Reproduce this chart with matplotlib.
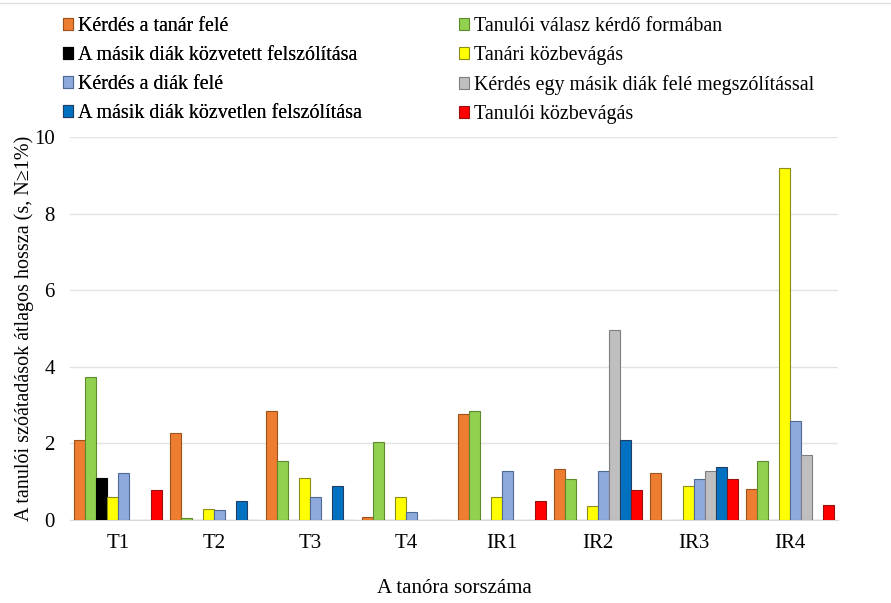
import matplotlib.pyplot as plt
import numpy as np

plt.rcParams['font.family'] = ['Liberation Serif', 'DejaVu Serif']

lessons = ['T1', 'T2', 'T3', 'T4', 'IR1', 'IR2', 'IR3', 'IR4']

series_names = [
    'Kérdés a tanár felé',
    'Tanulói válasz kérdő formában',
    'A másik diák közvetett felszólítása',
    'Tanári közbevágás',
    'Kérdés a diák felé',
    'Kérdés egy másik diák felé megszólítással',
    'A másik diák közvetlen felszólítása',
    'Tanulói közbevágás',
]

kerdes_tanar = [2.10, 2.28, 2.84, 0.09, 2.77, 1.34, 1.23, 0.80]
valasz_kerdo = [3.74, 0.05, 1.55, 2.04, 2.85, 1.07, 0, 1.54]
kozvetett = [1.09, 0, 0, 0, 0, 0, 0, 0]
tanari_kozbe = [0.59, 0.29, 1.09, 0.59, 0.59, 0.36, 0.88, 9.18]
kerdes_diak = [1.23, 0.26, 0.59, 0.20, 1.29, 1.29, 1.08, 2.59]
kerdes_masik = [0, 0, 0, 0, 0, 4.97, 1.29, 1.69]
kozvetlen = [0, 0.49, 0.89, 0, 0, 2.09, 1.38, 0]
tanuloi_kozbe = [0.79, 0, 0, 0, 0.49, 0.78, 1.07, 0.38]

values = [kerdes_tanar, valasz_kerdo, kozvetett, tanari_kozbe,
          kerdes_diak, kerdes_masik, kozvetlen, tanuloi_kozbe]

colors = ['#ED7D31', '#92D050', '#000000', '#FFFF00',
          '#8EA9DB', '#BFBFBF', '#0070C0', '#FF0000']
edges = ['#A0521C', '#5E8A2E', '#000000', '#8C8C1A',
         '#4F6A94', '#7F7F7F', '#1F3F66', '#9A1010']

fig = plt.figure(figsize=(8.91, 6.03), dpi=100)
ax = fig.add_axes([70 / 891, 83 / 603, 768 / 891, 383 / 603])

x = np.arange(len(lessons))
w = 1 / 8.8
handles = []
for j, (vals, name) in enumerate(zip(values, series_names)):
    b = ax.bar(x + (j - 3.5) * w, vals, w, color=colors[j],
               edgecolor=edges[j], linewidth=0.8, label=name, zorder=3)
    handles.append(b)

ax.set_xlim(-0.5, 7.5)
ax.set_ylim(0, 10)
ax.set_yticks([0, 2, 4, 6, 8, 10])
ax.set_xticks(x)
ax.set_xticklabels(lessons)
ax.tick_params(axis='both', length=0, labelsize=15)
ax.tick_params(axis='x', pad=10)
ax.tick_params(axis='y', pad=11)
ax.grid(axis='y', color='#E3E3E3', linewidth=1, zorder=0)
for s in ['top', 'right', 'left']:
    ax.spines[s].set_visible(False)
ax.spines['bottom'].set_color('#D9D9D9')

ax.set_ylabel('A tanulói szóátadások átlagos hossza (s, N≥1%)', fontsize=14.5)
ax.yaxis.set_label_coords(-0.047, 0.5)
ax.set_xlabel('A tanóra sorszáma', fontsize=15)
ax.xaxis.set_label_coords(0.5, -0.155)

leg_kw = dict(loc='upper left', frameon=False, fontsize=14.4,
              handlelength=0.5, handleheight=0.5, handletextpad=0.25,
              labelspacing=0.5, borderpad=0, borderaxespad=0)
left_col = [0, 2, 4, 6]
right_col = [1, 3, 5, 7]
leg1 = fig.legend([handles[i] for i in left_col], [series_names[i] for i in left_col],
                  bbox_to_anchor=(63 / 891, 1 - 17 / 603), **leg_kw)
fig.add_artist(leg1)
fig.legend([handles[i] for i in right_col], [series_names[i] for i in right_col],
           bbox_to_anchor=(459 / 891, 1 - 17 / 603), **leg_kw)

fig.add_artist(plt.Line2D([0, 1], [1 - 3 / 603, 1 - 3 / 603],
                          transform=fig.transFigure, color='#DDDDDD', linewidth=1))

fig.savefig('out.png', dpi=100)
